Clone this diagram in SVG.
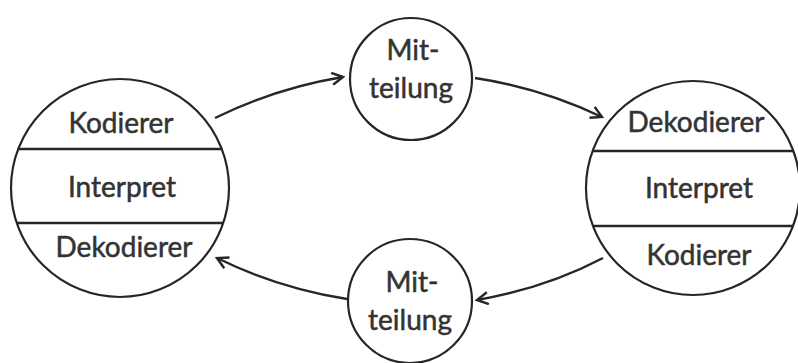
<svg xmlns="http://www.w3.org/2000/svg" width="798" height="363" viewBox="0 0 798 363">
<style>
.c{fill:#fff;stroke:#262626;stroke-width:2.2}
.d{stroke:#262626;stroke-width:2.6}
.t{font-family:Lato,"Liberation Sans",sans-serif;font-size:28px;fill:#333;stroke:#333;stroke-width:0.5;text-anchor:middle}
.e{fill:none;stroke:#262626;stroke-width:2.4}
</style>
<defs>
<marker id="a" viewBox="0 0 14 14" refX="12" refY="7" markerWidth="14" markerHeight="14" markerUnits="userSpaceOnUse" orient="auto">
<path d="M1,1 L12,7 L1,13" fill="none" stroke="#262626" stroke-width="2.4"/>
</marker>
</defs>
<rect width="798" height="363" fill="#fff"/>
<g id="edges">
<path class="e" d="M215,118 Q276,88 343,77" marker-end="url(#a)"/>
<path class="e" d="M475,78 Q541,88 602,117" marker-end="url(#a)"/>
<path class="e" d="M603,258 Q546,288 477,300" marker-end="url(#a)"/>
<path class="e" d="M347,299 Q278,288 217,258" marker-end="url(#a)"/>
</g>
<g id="left">
<circle class="c" cx="120" cy="188" r="109"/>
<line class="d" x1="18" y1="149" x2="222" y2="149"/>
<line class="d" x1="17" y1="223" x2="223" y2="223"/>
<text class="t" x="121" y="133">Kodierer</text>
<text class="t" x="122" y="197">Interpret</text>
<text class="t" x="124" y="257">Dekodierer</text>
</g>
<g id="right">
<circle class="c" cx="693" cy="188" r="107"/>
<line class="d" x1="593" y1="151" x2="793" y2="151"/>
<line class="d" x1="593" y1="226" x2="793" y2="226"/>
<text class="t" x="696" y="132">Dekodierer</text>
<text class="t" x="699" y="198">Interpret</text>
<text class="t" x="699" y="265">Kodierer</text>
</g>
<g id="msg-top">
<circle class="c" cx="411" cy="79" r="61"/>
<text class="t" x="413" y="60">Mit-</text>
<text class="t" x="411" y="98">teilung</text>
</g>
<g id="msg-bottom">
<circle class="c" cx="410" cy="301" r="62"/>
<text class="t" x="412" y="292">Mit-</text>
<text class="t" x="410" y="330">teilung</text>
</g>
</svg>
